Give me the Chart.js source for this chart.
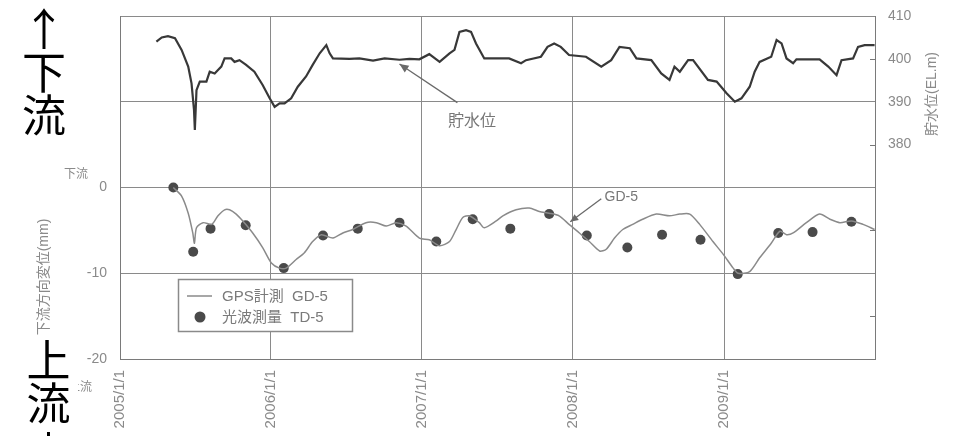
<!DOCTYPE html>
<html>
<head>
<meta charset="utf-8">
<script src="https://cdn.jsdelivr.net/npm/chart.js@4.4.1/dist/chart.umd.min.js"></script>
<style>
  html, body { margin: 0; padding: 0; background: #fff; }
  #wrap { position: relative; width: 955px; height: 436px; overflow: hidden; }
  canvas { position: absolute; left: 0; top: 0; }
  .big { position: absolute; font-family: "Noto Sans CJK JP", sans-serif; font-size: 44px; line-height: 43px; color: #000; text-align: center; width: 50px; }
  .big span { position: relative; }
  #upTop { left: 19px; top: 6px; }
  #downBottom { left: 19px; top: 337px; width: 59px; background: #fff; }
  #downBottom .tail { top: 6px; }
</style>
</head>
<body>
<div id="wrap">
  <canvas id="c" width="955" height="436"></canvas>
  <div class="big" id="upTop">↑<br>下<br>流</div>
  <div class="big" id="downBottom">上<br>流<br><span class="tail">↓</span></div>
</div>
<script>
// Reservoir water level (EL.m)
const reservoirDates = [
  '2005-03-30','2005-04-12','2005-04-27','2005-05-14','2005-05-30','2005-06-15','2005-06-23','2005-06-29',
  '2005-07-01','2005-07-05','2005-07-13','2005-07-29','2005-08-06','2005-08-18','2005-08-26','2005-09-03',
  '2005-09-11','2005-09-27','2005-10-05','2005-10-17','2005-11-02','2005-11-22','2005-12-12','2005-12-29',
  '2006-01-10','2006-01-22','2006-02-03','2006-02-19','2006-03-07','2006-03-27','2006-04-12','2006-04-29',
  '2006-05-15','2006-05-23','2006-05-31','2006-07-10','2006-08-03','2006-09-05','2006-10-03','2006-11-08',
  '2006-12-02','2006-12-26','2007-01-19','2007-02-13','2007-03-09','2007-03-21','2007-04-02','2007-04-18',
  '2007-04-30','2007-05-12','2007-06-01','2007-07-31','2007-08-29','2007-09-10','2007-10-16','2007-11-01',
  '2007-11-17','2007-12-03','2007-12-23','2008-02-02','2008-03-10','2008-04-03','2008-04-23','2008-05-18',
  '2008-06-03','2008-07-09','2008-08-02','2008-08-22','2008-09-03','2008-09-16','2008-10-06','2008-10-18',
  '2008-11-23','2008-12-14','2009-01-07','2009-01-27','2009-02-12','2009-03-04','2009-03-16','2009-03-28',
  '2009-04-25','2009-05-08','2009-05-20','2009-06-01','2009-06-17','2009-06-25','2009-08-20','2009-09-10',
  '2009-09-30','2009-10-12','2009-11-09','2009-11-21','2009-12-07','2009-12-31'
];
const reservoirLevels = [
  404.0, 405.0, 405.3, 404.8, 402.1, 398.2, 394.3, 388.1,
  383.4, 392.7, 394.7, 394.7, 397.0, 396.6, 397.4, 398.2,
  400.1, 400.1, 399.3, 399.7, 398.6, 397.0, 393.9, 390.8,
  388.8, 389.6, 389.6, 390.8, 393.5, 395.9, 398.6, 401.3,
  403.2, 401.3, 400.1, 400.0, 400.1, 399.6, 400.1, 399.8,
  400.0, 399.9, 401.1, 399.3, 401.3, 402.1, 406.3, 406.7,
  406.3, 403.6, 400.1, 400.1, 399.0, 399.7, 400.5, 402.8,
  403.6, 402.8, 400.9, 400.5, 398.2, 399.7, 402.8, 402.5,
  400.1, 399.7, 396.6, 395.1, 398.2, 397.0, 399.7, 399.7,
  395.1, 394.7, 392.0, 390.0, 390.8, 393.5, 397.0, 399.3,
  400.5, 404.4, 403.6, 400.1, 399.0, 399.9, 399.9, 398.2,
  396.2, 399.7, 400.1, 402.8, 403.2, 403.2
];

// GPS measurement GD-5, downstream displacement (mm)
const gpsDates = [
  '2005-05-10','2005-05-30','2005-06-15','2005-06-26','2005-06-30','2005-07-05','2005-07-21','2005-08-11',
  '2005-08-26','2005-09-11','2005-09-23','2005-10-09','2005-10-25','2005-11-18','2005-12-12','2006-01-02',
  '2006-01-22','2006-02-07','2006-03-03','2006-03-23','2006-04-12','2006-05-03','2006-05-31','2006-06-24',
  '2006-07-18','2006-08-19','2006-09-13','2006-10-07','2006-10-31','2006-11-24','2006-12-26','2007-01-19',
  '2007-02-13','2007-03-09','2007-03-25','2007-04-10','2007-04-26','2007-05-20','2007-06-01','2007-06-30',
  '2007-07-16','2007-08-17','2007-09-18','2007-10-12','2007-11-05','2007-11-29','2007-12-23','2008-01-17',
  '2008-02-10','2008-03-06','2008-03-22','2008-04-11','2008-05-01','2008-05-25','2008-06-18','2008-07-21',
  '2008-08-22','2008-09-16','2008-10-10','2008-11-03','2008-12-05','2008-12-30','2009-01-23','2009-02-04',
  '2009-03-04','2009-03-28','2009-04-25','2009-05-16','2009-06-01','2009-06-17','2009-07-19','2009-08-20',
  '2009-09-14','2009-10-08','2009-11-05','2009-12-03','2009-12-31'
];
const gpsDisp = [
   0.0, -1.0, -3.0, -5.3, -6.5, -4.7, -4.1, -4.3,
  -3.3, -2.6, -2.6, -3.1, -3.9, -5.3, -7.0, -8.8,
  -9.4, -9.4, -8.4, -7.6, -6.3, -5.5, -5.9, -5.3,
  -4.9, -4.1, -4.1, -4.5, -4.1, -4.5, -5.9, -6.1,
  -6.8, -6.3, -4.9, -3.5, -3.3, -4.1, -4.7, -3.9,
  -3.3, -2.6, -2.4, -2.8, -3.0, -3.3, -4.3, -5.3,
  -6.3, -7.4, -7.2, -5.9, -4.9, -4.3, -3.7, -3.1,
  -3.3, -3.1, -3.1, -4.3, -6.3, -7.8, -9.4, -10.0,
  -9.8, -8.2, -6.5, -5.1, -5.5, -5.3, -4.1, -3.1,
  -3.7, -4.1, -3.9, -4.3, -4.9
];

// Electro-optical survey TD-5 (mm)
const tdDates = [
  '2005-05-10','2005-06-27','2005-08-08','2005-11-01','2006-02-01','2006-05-07','2006-07-30','2006-11-08',
  '2007-02-05','2007-05-04','2007-08-03','2007-11-05','2008-02-04','2008-05-12','2008-08-04','2008-11-05',
  '2009-02-03','2009-05-12','2009-08-03','2009-11-05'
];
const tdDisp = [
   0.0, -7.5, -4.8, -4.4, -9.4, -5.6, -4.8, -4.1,
  -6.3, -3.7, -4.8, -3.1, -5.6, -7.0, -5.5, -6.1,
  -10.1, -5.3, -5.2, -4.0
];

// Axis ticks
const yearTicks = ['2005-01-01','2006-01-01','2007-01-01','2008-01-01','2009-01-01','2010-01-01'];
const innerLevelTicks = [400, 380, 360, 340];

const toTime = s => { const [Y, M, D] = s.split('-').map(Number); return Date.UTC(Y, M - 1, D); };
const pairs = (dates, vals) => dates.map((d, i) => ({ x: toTime(d), y: vals[i] }));
const dateLabel = t => { const d = new Date(t); return d.getUTCFullYear() + '/' + (d.getUTCMonth() + 1) + '/' + d.getUTCDate(); };

Chart.defaults.font.family = "'Liberation Sans', 'Noto Sans CJK JP', sans-serif";
Chart.defaults.font.size = 14;
Chart.defaults.color = '#8a8a8a';

function arrow(ctx, x1, y1, x2, y2, head) {
  ctx.beginPath(); ctx.moveTo(x1, y1); ctx.lineTo(x2, y2); ctx.stroke();
  const ang = Math.atan2(y2 - y1, x2 - x1);
  ctx.beginPath();
  ctx.moveTo(x2, y2);
  ctx.lineTo(x2 - head * Math.cos(ang) + head * 0.45 * Math.sin(ang), y2 - head * Math.sin(ang) - head * 0.45 * Math.cos(ang));
  ctx.lineTo(x2 - head * Math.cos(ang) - head * 0.45 * Math.sin(ang), y2 - head * Math.sin(ang) + head * 0.45 * Math.cos(ang));
  ctx.closePath(); ctx.fill();
}

// keep the plot box fixed: no extra room reserved for half-height end labels
const noEdgePadding = s => { s.paddingTop = 0; s.paddingBottom = 0; s.paddingLeft = 0; s.paddingRight = 0; };

const overlay = {
  id: 'overlay',
  afterDraw(chart) {
    const { ctx, chartArea: a, scales: { x, y, y1 } } = chart;
    ctx.save();

    // short inward ticks on the water level axis
    ctx.strokeStyle = '#777'; ctx.lineWidth = 1;
    innerLevelTicks.forEach(v => {
      const py = Math.round(y1.getPixelForValue(v)) + 0.5;
      ctx.beginPath(); ctx.moveTo(a.right - 5, py); ctx.lineTo(a.right, py); ctx.stroke();
    });

    // axis titles
    ctx.fillStyle = '#8a8a8a';
    ctx.font = "14px 'Liberation Sans', 'Noto Sans CJK JP', sans-serif";
    ctx.textAlign = 'center'; ctx.textBaseline = 'middle';
    ctx.save(); ctx.translate(44, 277); ctx.rotate(-Math.PI / 2); ctx.fillText('下流方向変位(mm)', 0, 0); ctx.restore();
    ctx.save(); ctx.translate(932, 94); ctx.rotate(-Math.PI / 2); ctx.fillText('貯水位(EL.m)', 0, 0); ctx.restore();

    // direction hints beside the displacement axis
    ctx.font = "12px 'Noto Sans CJK JP', sans-serif";
    ctx.textAlign = 'right';
    ctx.fillText('下流', 88, y.getPixelForValue(0) - 14);
    ctx.fillText('上流', 92, y.getPixelForValue(-20) + 27);

    // callouts
    ctx.strokeStyle = '#6a6a6a'; ctx.fillStyle = '#6a6a6a'; ctx.lineWidth = 1.3;
    arrow(ctx, x.getPixelForValue(toTime('2007-03-28')), y1.getPixelForValue(389.8),
               x.getPixelForValue(toTime('2006-11-08')), y1.getPixelForValue(398.8), 9);
    arrow(ctx, x.getPixelForValue(toTime('2008-03-10')), y.getPixelForValue(-1.3),
               x.getPixelForValue(toTime('2007-12-26')), y.getPixelForValue(-4.0), 8);
    ctx.fillStyle = '#777';
    ctx.font = "16px 'Noto Sans CJK JP', sans-serif";
    ctx.textAlign = 'left'; ctx.textBaseline = 'middle';
    ctx.fillText('貯水位', x.getPixelForValue(toTime('2007-03-05')), y1.getPixelForValue(385.7));
    ctx.font = "14px 'Liberation Sans', sans-serif";
    ctx.fillText('GD-5', x.getPixelForValue(toTime('2008-03-18')), y.getPixelForValue(-1.1));

    // legend
    const lx = 178.5, ly = 279.5, lw = 174, lh = 52;
    ctx.fillStyle = '#fff'; ctx.fillRect(lx, ly, lw, lh);
    ctx.strokeStyle = '#8a8a8a'; ctx.lineWidth = 1.5; ctx.strokeRect(lx, ly, lw, lh);
    ctx.beginPath(); ctx.moveTo(187, 296); ctx.lineTo(212, 296); ctx.stroke();
    ctx.fillStyle = '#4a4a4a';
    ctx.beginPath(); ctx.arc(200, 317, 5.5, 0, Math.PI * 2); ctx.fill();
    ctx.fillStyle = '#7a7a7a';
    ctx.font = "15px 'Liberation Sans', 'Noto Sans CJK JP', sans-serif";
    ctx.fillText('GPS計測  GD-5', 222, 297);
    ctx.fillText('光波測量  TD-5', 222, 318);

    ctx.restore();
  }
};

new Chart(document.getElementById('c'), {
  type: 'line',
  data: {
    datasets: [
      {
        label: 'GPS計測 GD-5',
        data: pairs(gpsDates, gpsDisp),
        yAxisID: 'y',
        borderColor: '#8a8a8a', borderWidth: 1.5,
        pointRadius: 0, tension: 0.25, fill: false
      },
      {
        label: '光波測量 TD-5',
        data: pairs(tdDates, tdDisp),
        yAxisID: 'y',
        showLine: false,
        pointRadius: 5, pointBackgroundColor: '#4a4a4a', pointBorderColor: '#4a4a4a', pointBorderWidth: 0
      },
      {
        label: '貯水位',
        data: pairs(reservoirDates, reservoirLevels),
        yAxisID: 'y1',
        borderColor: '#383838', borderWidth: 2.2,
        pointRadius: 0, tension: 0, fill: false
      }
    ]
  },
  options: {
    responsive: false,
    animation: false,
    layout: { padding: { top: 16, right: 0, bottom: 0, left: 0 } },
    plugins: { legend: { display: false }, tooltip: { enabled: false } },
    scales: {
      x: {
        type: 'linear',
        min: toTime(yearTicks[0]),
        max: toTime(yearTicks[yearTicks.length - 1]),
        afterBuildTicks: s => { s.ticks = yearTicks.map(d => ({ value: toTime(d) })); },
        afterFit: s => { s.height = 77; noEdgePadding(s); },
        grid: { color: '#8a8a8a', lineWidth: 1, drawTicks: false },
        border: { color: '#7a7a7a', width: 1 },
        ticks: {
          autoSkip: false, minRotation: 90, maxRotation: 90, padding: 11,
          font: { size: 15 },
          callback: v => (v >= toTime(yearTicks[yearTicks.length - 1]) ? '' : dateLabel(v))
        }
      },
      y: {
        position: 'left',
        min: -20, max: 20,
        afterFit: s => { s.width = 120; noEdgePadding(s); },
        grid: { color: '#8a8a8a', lineWidth: 1, drawTicks: false },
        border: { color: '#7a7a7a', width: 1 },
        ticks: { stepSize: 10, padding: 13, callback: v => (v > 0 ? '' : v) }
      },
      y1: {
        position: 'right',
        min: 330, max: 410,
        afterFit: s => { s.width = 80; noEdgePadding(s); },
        grid: { display: false, drawTicks: false },
        border: { display: true, color: '#7a7a7a', width: 1 },
        ticks: { stepSize: 10, padding: 13, callback: v => (v >= 380 ? v : '') }
      }
    }
  },
  plugins: [overlay]
});
</script>
</body>
</html>
